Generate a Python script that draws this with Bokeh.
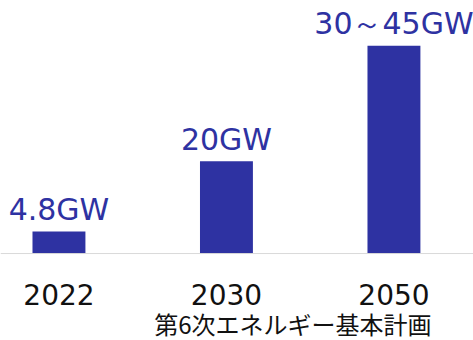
from bokeh.plotting import figure
from bokeh.models import ColumnDataSource, Range1d, Span
from bokeh.core.properties import value
from bokeh.embed import file_html
from bokeh.resources import INLINE

years = ["2022", "2030", "2050"]
capacity_gw = [4.8, 20, 45]
value_labels = ["4.8GW", "20GW", "30～45GW"]
note = "第6次エネルギー基本計画"

BLUE = "#2E32A2"
xs = list(range(len(years)))
src = ColumnDataSource(dict(x=xs, top=capacity_gw, label=value_labels, year=years,
                            base=[0] * len(years)))

p = figure(width=473, height=340, output_backend="svg", toolbar_location=None,
           x_range=Range1d(-0.349, 2.475), y_range=Range1d(-18.83, 54.8),
           min_border=0, x_axis_type=None, y_axis_type=None)
p.outline_line_color = None
p.grid.grid_line_color = None

p.add_layout(Span(location=0, dimension="width", line_color="#d9d9d9", line_width=1))
p.vbar(x="x", top="top", width=0.316, bottom=0, source=src, fill_color=BLUE, line_color=None)
p.text(x="x", y="top", text="label", source=src, text_align="center", text_baseline="middle",
       y_offset=-22, text_font=value("DejaVu Sans"), text_font_size="30px", text_color=BLUE)
p.text(x="x", y="base", text="year", source=src, text_align="center", text_baseline="middle",
       y_offset=41, text_font=value("DejaVu Sans"), text_font_size="28px", text_color="#111111")
p.text(x=[1.397], y=[0], text=[note], text_align="center", text_baseline="middle",
       y_offset=70, text_font=value("Noto Sans CJK JP"), text_font_size="24px", text_color="#111111")

open("out.html", "w").write(file_html(p, INLINE))
